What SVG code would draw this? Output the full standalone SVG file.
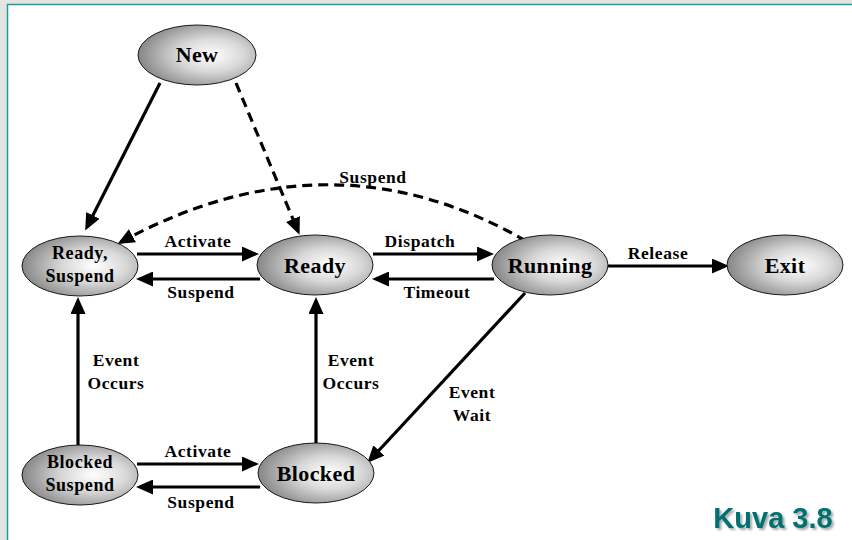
<svg xmlns="http://www.w3.org/2000/svg" width="852" height="540" viewBox="0 0 852 540">
  <defs>
    <radialGradient id="shade" cx="0.62" cy="0.5" r="0.62">
      <stop offset="0" stop-color="#ffffff"/>
      <stop offset="0.45" stop-color="#d8d8d8"/>
      <stop offset="1" stop-color="#868686"/>
    </radialGradient>
    <marker id="head" markerUnits="userSpaceOnUse" markerWidth="17" markerHeight="15" refX="13" refY="7.5" orient="auto">
      <path d="M0,0 L17,7.5 L0,15 z" fill="#000"/>
    </marker>
    <filter id="drop" x="-10%" y="-20%" width="130%" height="150%">
      <feGaussianBlur in="SourceAlpha" stdDeviation="1.2"/>
      <feOffset dx="2" dy="2" result="b"/>
      <feComponentTransfer><feFuncA type="linear" slope="0.35"/></feComponentTransfer>
      <feMerge><feMergeNode/><feMergeNode in="SourceGraphic"/></feMerge>
    </filter>
  </defs>
  <style>
    .state { fill: url(#shade); stroke: #1a1a1a; stroke-width: 1; }
    .name { font-family: "Liberation Serif", "Times New Roman", serif; font-weight: bold; font-size: 22px; letter-spacing: 0.4px; text-anchor: middle; fill: #000; }
    .name2 { font-family: "Liberation Serif", "Times New Roman", serif; font-weight: bold; font-size: 18px; letter-spacing: 0.6px; text-anchor: middle; fill: #000; }
    .edge { stroke: #000; stroke-width: 3.2; fill: none; marker-end: url(#head); }
    .dash { stroke-dasharray: 10 6; }
    .lbl { font-family: "Liberation Serif", "Times New Roman", serif; font-weight: bold; font-size: 17.5px; letter-spacing: 0.6px; text-anchor: middle; fill: #000; }
  </style>

  <!-- page frame -->
  <rect x="0" y="0" width="852" height="540" fill="#e4e4e0"/>
  <rect x="7.5" y="4.5" width="850" height="540" fill="#ffffff" stroke="#1aa0a0" stroke-width="1.5"/>

  <g id="connectors">
    <!-- New -> Ready, Suspend -->
    <line class="edge" x1="160" y1="83" x2="87" y2="227"/>
    <!-- New -> Ready -->
    <line class="edge dash" x1="236" y1="83" x2="298" y2="231"/>
    <!-- Running -> Ready, Suspend (Suspend) -->
    <path class="edge dash" d="M526,241 Q330,128 121,242"/>
    <!-- Ready, Suspend <-> Ready -->
    <line class="edge" x1="137" y1="254" x2="255" y2="254"/>
    <line class="edge" x1="260" y1="279" x2="140" y2="279"/>
    <!-- Ready <-> Running -->
    <line class="edge" x1="373" y1="254" x2="490" y2="254"/>
    <line class="edge" x1="494" y1="279" x2="376" y2="279"/>
    <!-- Running -> Exit -->
    <line class="edge" x1="608" y1="266" x2="725" y2="266"/>
    <!-- Blocked Suspend -> Ready, Suspend -->
    <line class="edge" x1="78" y1="445" x2="78" y2="301"/>
    <!-- Blocked -> Ready -->
    <line class="edge" x1="316" y1="444" x2="316" y2="301"/>
    <!-- Running -> Blocked -->
    <line class="edge" x1="525" y1="293" x2="370" y2="460"/>
    <!-- Blocked Suspend <-> Blocked -->
    <line class="edge" x1="137" y1="464" x2="255" y2="464"/>
    <line class="edge" x1="260" y1="487" x2="140" y2="487"/>

    <text class="lbl" x="373" y="183">Suspend</text>
    <text class="lbl" x="198" y="247">Activate</text>
    <text class="lbl" x="201" y="298">Suspend</text>
    <text class="lbl" x="420" y="247">Dispatch</text>
    <text class="lbl" x="437" y="298">Timeout</text>
    <text class="lbl" x="658" y="259">Release</text>
    <text class="lbl" x="116" y="366">Event</text>
    <text class="lbl" x="116" y="389">Occurs</text>
    <text class="lbl" x="351" y="366">Event</text>
    <text class="lbl" x="351" y="389">Occurs</text>
    <text class="lbl" x="472" y="398">Event</text>
    <text class="lbl" x="472" y="421">Wait</text>
    <text class="lbl" x="198" y="457">Activate</text>
    <text class="lbl" x="201" y="508">Suspend</text>
  </g>

  <g id="new">
    <ellipse class="state" cx="197" cy="55" rx="59" ry="30"/>
    <text class="name" x="197" y="62">New</text>
  </g>
  <g id="ready-suspend">
    <ellipse class="state" cx="80" cy="266" rx="58" ry="30"/>
    <text class="name2" x="80" y="259">Ready,</text>
    <text class="name2" x="80" y="282">Suspend</text>
  </g>
  <g id="ready">
    <ellipse class="state" cx="315" cy="265" rx="58" ry="30"/>
    <text class="name" x="315" y="273">Ready</text>
  </g>
  <g id="running">
    <ellipse class="state" cx="550" cy="265" rx="58" ry="30"/>
    <text class="name" x="550" y="273">Running</text>
  </g>
  <g id="exit">
    <ellipse class="state" cx="785" cy="265" rx="58" ry="30"/>
    <text class="name" x="785" y="273">Exit</text>
  </g>
  <g id="blocked-suspend">
    <ellipse class="state" cx="80" cy="475" rx="58" ry="30"/>
    <text class="name2" x="80" y="468">Blocked</text>
    <text class="name2" x="80" y="491">Suspend</text>
  </g>
  <g id="blocked">
    <ellipse class="state" cx="316" cy="473" rx="58" ry="30"/>
    <text class="name" x="316" y="481">Blocked</text>
  </g>

  <text x="773" y="528" font-family="Liberation Sans, Arial, sans-serif" font-weight="bold" font-size="29" fill="#007070" text-anchor="middle" filter="url(#drop)">Kuva 3.8</text>
</svg>
